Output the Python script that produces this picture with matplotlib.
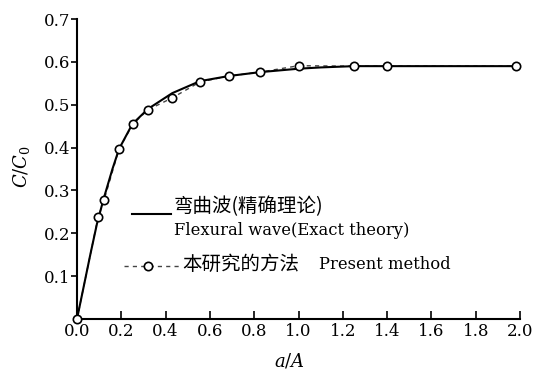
import matplotlib
matplotlib.use("Agg")
import matplotlib.pyplot as plt
from matplotlib.lines import Line2D

plt.rcParams['font.family'] = ['DejaVu Serif', 'Noto Sans CJK SC']
plt.rcParams['mathtext.fontset'] = 'dejavuserif'

# Exact theory (flexural wave) curve
exact_x = [0, 0.03, 0.06, 0.09, 0.12, 0.16, 0.19, 0.25, 0.32, 0.43, 0.555, 0.686, 0.826, 1.0, 1.1, 1.25, 1.5, 1.98]
exact_y = [0, 0.075, 0.15, 0.222, 0.28, 0.35, 0.397, 0.455, 0.49, 0.527, 0.555, 0.567, 0.576, 0.584, 0.587, 0.59, 0.59, 0.59]

# Present method points
present_x = [0, 0.095, 0.122, 0.19, 0.253, 0.32, 0.43, 0.555, 0.686, 0.826, 1.0, 1.25, 1.40, 1.98]
present_y = [0, 0.237, 0.277, 0.397, 0.455, 0.488, 0.516, 0.553, 0.567, 0.576, 0.591, 0.590, 0.590, 0.590]

xticks = [0.0, 0.2, 0.4, 0.6, 0.8, 1.0, 1.2, 1.4, 1.6, 1.8, 2.0]
yticks = [0.1, 0.2, 0.3, 0.4, 0.5, 0.6, 0.7]

fig = plt.figure(figsize=(5.49, 3.69), dpi=100)
ax = fig.add_axes([77/549, 1-319/369, 443/549, 300/369])

ax.plot(exact_x, exact_y, '-', color='black', lw=1.5, zorder=3)
ax.plot(present_x, present_y, color='#444444', lw=1.0, dashes=(3, 3), zorder=2)
ax.plot(present_x, present_y, 'o', ms=6, mfc='white', mec='black', mew=1.2,
        ls='none', zorder=4, clip_on=False)

ax.set_xlim(0, 2.0)
ax.set_ylim(0, 0.7)
ax.set_xticks(xticks)
ax.set_xticklabels([f"{v:.1f}" for v in xticks])
ax.set_yticks(yticks)
ax.set_yticklabels([f"{v:.1f}" for v in yticks])

for s in ['top', 'right']:
    ax.spines[s].set_visible(False)
for s in ['left', 'bottom']:
    ax.spines[s].set_linewidth(1.5)

ax.tick_params(axis='x', direction='in', length=6, width=1.2, pad=3, labelsize=12)
ax.tick_params(axis='y', direction='out', length=4, width=1.2, pad=1, labelsize=12)

ax.set_xlabel(r'$a/A$', fontsize=13)
ax.xaxis.set_label_coords((289 - 77) / 443, -(351 - 319) / 300)
ax.set_ylabel(r'$C/C_{\mathrm{0}}$', fontsize=13)
ax.yaxis.set_label_coords(-(77 - 32) / 443, (319 - 167) / 300)

# Legend (manual)
tr = ax.transAxes
ax.add_line(Line2D([0.124, 0.212], [0.35, 0.35], color='black', lw=1.5, transform=tr))
ax.text(0.219, 0.373, '弯曲波(精确理论)', transform=tr, va='center', ha='left',
        fontsize=14, family=['Noto Sans CJK SC'], fontweight='light')
ax.text(0.219, 0.295, 'Flexural wave(Exact theory)', transform=tr, va='center', ha='left',
        fontsize=11.8, family=['DejaVu Serif'])
ax.add_line(Line2D([0.106, 0.233], [0.177, 0.177], color='#444444', lw=1.0, dashes=(3, 3),
                   transform=tr))
ax.add_line(Line2D([0.160], [0.177], marker='o', ms=6, mfc='white', mec='black', mew=1.2,
                   ls='none', transform=tr))
ax.text(0.237, 0.183, '本研究的方法', transform=tr, va='center', ha='left',
        fontsize=14, family=['Noto Sans CJK SC'], fontweight='light')
ax.text(0.546, 0.183, 'Present method', transform=tr, va='center', ha='left',
        fontsize=11.8, family=['DejaVu Serif'])

fig.savefig('out.png', dpi=100)
